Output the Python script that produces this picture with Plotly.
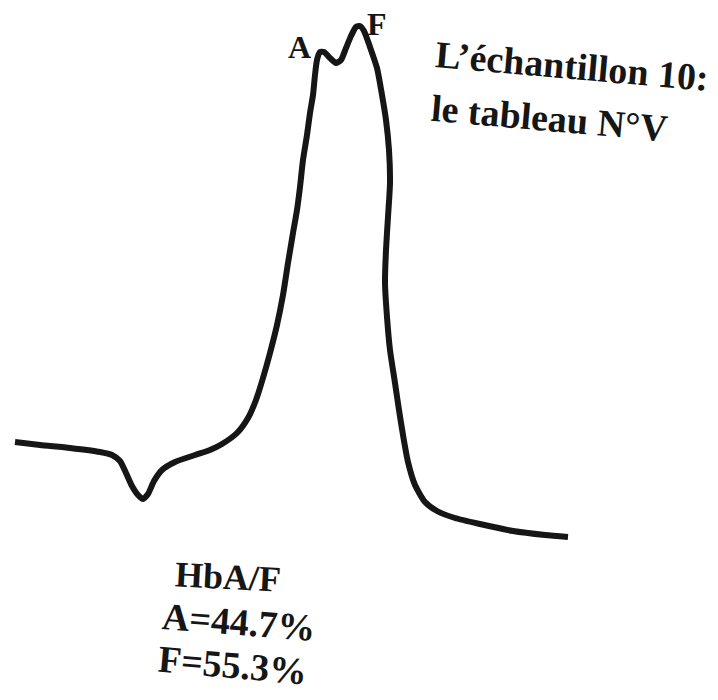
import plotly.graph_objects as go

# Retention time (arbitrary units) and detector signal (arbitrary units)
time = [15, 40, 70, 100, 112, 120, 126, 132, 138, 143, 148, 154, 162, 175, 195, 210, 222, 237,
        248, 256, 263, 270, 277, 283, 288, 293, 297, 300, 303, 307, 310, 313, 315, 317, 320,
        324, 330, 336, 341, 346, 351, 356, 360, 364, 370, 377, 382, 386, 389, 390, 388, 386,
        385, 387, 390, 395, 399, 403, 408, 415, 425, 437, 455, 480, 513, 545, 568]
signal = [118, 115, 112, 108, 105, 99, 87, 74, 65, 61, 66, 79, 90, 98, 105, 110, 116, 127,
          142, 160, 182, 207, 235, 265, 297, 327, 350, 373, 400, 425, 447, 465, 485, 500, 508,
          508, 502, 497, 500, 512, 524, 533, 534, 529, 513, 492, 465, 440, 410, 377, 343, 310,
          277, 243, 210, 177, 150, 125, 98, 75, 58, 49, 42, 36, 29, 25, 23]

peak_labels = ["A", "F"]
peak_times = [299, 377]
peak_signals = [513, 536]

title_lines = ["L\u2019échantillon 10:", "le tableau N°V"]
result_lines = ["HbA/F", "A=44.7%", "F=55.3%"]

ink = "#161616"
font_family = "Liberation Serif, Times New Roman, serif"

fig = go.Figure()
fig.add_trace(go.Scatter(
    x=time, y=signal, mode="lines",
    line=dict(color=ink, width=6, shape="spline", smoothing=0.6),
    hoverinfo="skip", showlegend=False,
))

annotations = []
for lab, t, s in zip(peak_labels, peak_times, peak_signals):
    annotations.append(dict(x=t, y=s, xref="x", yref="y", text=lab, showarrow=False,
                            font=dict(family=font_family, size=32, color=ink, weight="bold")))

title_pos = [(572, 494), (549, 442)]
for txt, (x, y) in zip(title_lines, title_pos):
    annotations.append(dict(x=x, y=y, xref="x", yref="y", text=txt, showarrow=False,
                            textangle=5,
                            font=dict(family=font_family, size=38, color=ink, weight="bold")))

result_pos = [(228, -17), (239, -62), (232, -105)]
result_angle = [3, 4.5, 5]
result_size = [36, 38, 38]
for txt, (x, y), a, sz in zip(result_lines, result_pos, result_angle, result_size):
    annotations.append(dict(x=x, y=y, xref="x", yref="y", text=txt, showarrow=False,
                            textangle=a,
                            font=dict(family=font_family, size=sz, color=ink, weight="bold")))

fig.update_layout(
    width=718, height=700,
    margin=dict(l=0, r=0, t=0, b=0),
    paper_bgcolor="white", plot_bgcolor="white",
    xaxis=dict(range=[0, 718], visible=False, fixedrange=True),
    yaxis=dict(range=[-140, 560], visible=False, fixedrange=True),
    annotations=annotations,
)

fig.write_html("out.html")
